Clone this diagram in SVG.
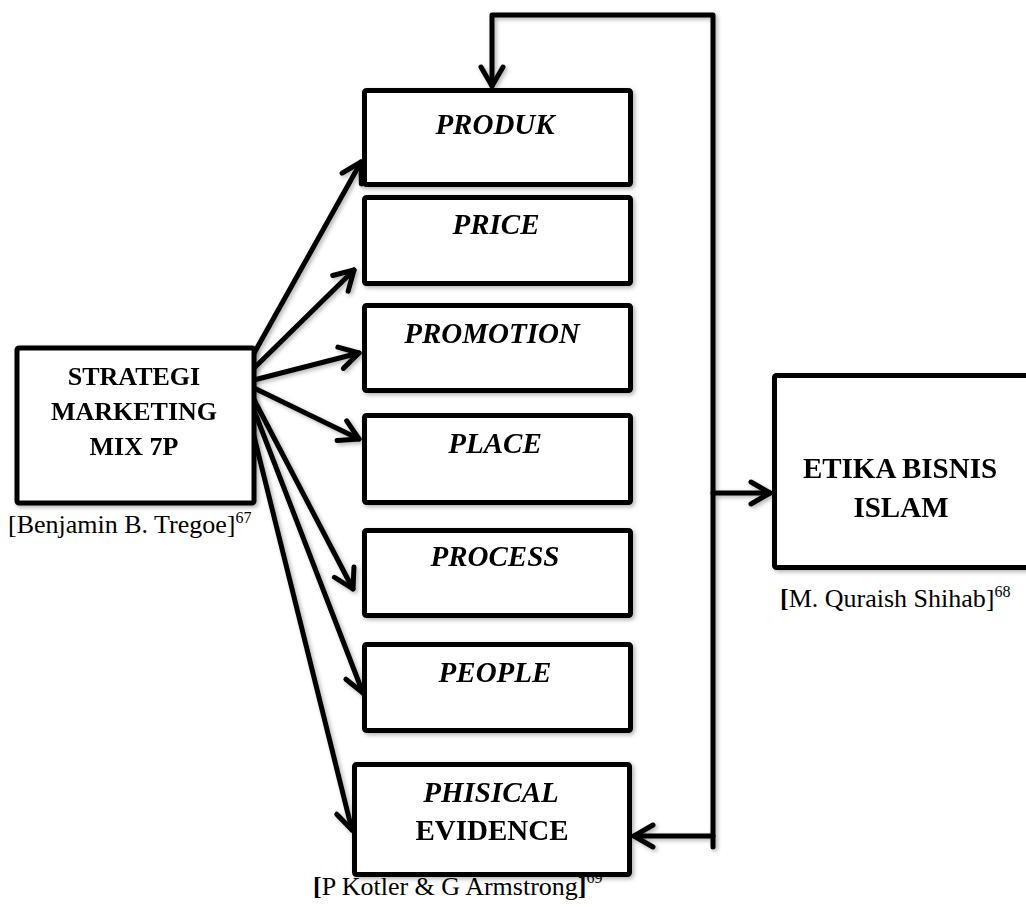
<svg xmlns="http://www.w3.org/2000/svg" width="1026" height="907" viewBox="0 0 1026 907">
  <style>
    .box { fill: #ffffff; stroke: #000000; stroke-width: 5; stroke-linejoin: round; }
    .lbl { font-family: "Liberation Serif", "Times New Roman", serif; font-weight: bold; fill: #000000; text-anchor: middle; }
    .it { font-style: italic; }
    .cite { font-family: "Liberation Serif", "Times New Roman", serif; font-size: 26px; fill: #000000; }
    .sup { font-size: 16px; }
    .wire { fill: none; stroke: #000000; stroke-width: 5; stroke-linecap: round; stroke-linejoin: round; }
  </style>
  <defs>
    <filter id="soft" x="-10%" y="-10%" width="130%" height="130%">
      <feDropShadow dx="2" dy="2" stdDeviation="2" flood-color="#000000" flood-opacity="0.3"/>
    </filter>
    <marker id="head" markerUnits="userSpaceOnUse" viewBox="-24 -14 28 28" refX="0" refY="0" markerWidth="28" markerHeight="28" orient="auto">
      <path d="M -19,-11 L 0,0 L -19,11" fill="none" stroke="#000000" stroke-width="5" stroke-linecap="round" stroke-linejoin="round"/>
    </marker>
  </defs>

  <rect width="1026" height="907" fill="#ffffff"/>

  <!-- source citations (the evidence box is drawn over the tail of the last one) -->
  <text class="cite" x="8" y="533">[Benjamin B. Tregoe]<tspan class="sup" dy="-10">67</tspan></text>
  <text class="cite" x="780" y="607"><tspan font-weight="bold">[</tspan>M. Quraish Shihab]<tspan class="sup" dy="-10">68</tspan></text>
  <text class="cite" x="313" y="895"><tspan font-weight="bold">[</tspan>P Kotler &amp; G Armstrong<tspan font-weight="bold">]</tspan><tspan class="sup" dy="-12">69</tspan></text>

  <!-- connectors -->
  <g id="connectors" filter="url(#soft)">
    <!-- fan-out from the marketing mix -->
    <line class="wire" x1="243" y1="373" x2="361" y2="162" marker-end="url(#head)"/>
    <line class="wire" x1="246" y1="376" x2="354" y2="270" marker-end="url(#head)"/>
    <line class="wire" x1="250" y1="381" x2="359" y2="353" marker-end="url(#head)"/>
    <line class="wire" x1="252" y1="387" x2="359" y2="439" marker-end="url(#head)"/>
    <line class="wire" x1="250" y1="392" x2="353" y2="589" marker-end="url(#head)"/>
    <line class="wire" x1="247" y1="392" x2="363" y2="693" marker-end="url(#head)"/>
    <line class="wire" x1="243" y1="392" x2="352" y2="830" marker-end="url(#head)"/>
    <!-- feedback loop -->
    <polyline class="wire" points="713,847 713,15 492,15 492,86" marker-end="url(#head)"/>
    <line class="wire" x1="713" y1="493" x2="770" y2="493" marker-end="url(#head)"/>
    <line class="wire" x1="713" y1="836" x2="634" y2="836" marker-end="url(#head)"/>
  </g>

  <!-- nodes -->
  <g id="strategi" filter="url(#soft)">
    <rect class="box" x="17" y="348" width="237" height="155" rx="2"/>
    <text class="lbl" font-size="26" x="134" y="385">STRATEGI</text>
    <text class="lbl" font-size="26" x="134" y="420">MARKETING</text>
    <text class="lbl" font-size="26" x="134" y="455">MIX 7P</text>
  </g>

  <g id="produk" filter="url(#soft)">
    <rect class="box" x="364.5" y="90.5" width="266" height="94" rx="2"/>
    <text class="lbl it" font-size="29" x="495" y="134">PRODUK</text>
  </g>

  <g id="price" filter="url(#soft)">
    <rect class="box" x="364.5" y="197.5" width="266" height="86" rx="2"/>
    <text class="lbl it" font-size="29" x="496" y="234">PRICE</text>
  </g>

  <g id="promotion" filter="url(#soft)">
    <rect class="box" x="364.5" y="305.5" width="266" height="85" rx="2"/>
    <text class="lbl it" font-size="29" x="492" y="343">PROMOTION</text>
  </g>

  <g id="place" filter="url(#soft)">
    <rect class="box" x="364.5" y="415.5" width="266" height="87" rx="2"/>
    <text class="lbl it" font-size="29" x="495" y="453">PLACE</text>
  </g>

  <g id="process" filter="url(#soft)">
    <rect class="box" x="364.5" y="530.5" width="266" height="85" rx="2"/>
    <text class="lbl it" font-size="29" x="495" y="566">PROCESS</text>
  </g>

  <g id="people" filter="url(#soft)">
    <rect class="box" x="364.5" y="644.5" width="266" height="86" rx="2"/>
    <text class="lbl it" font-size="29" x="495" y="682">PEOPLE</text>
  </g>

  <g id="physical-evidence" filter="url(#soft)">
    <rect class="box" x="354.5" y="764.5" width="275" height="110" rx="2"/>
    <text class="lbl it" font-size="29" x="491" y="802">PHISICAL</text>
    <text class="lbl" font-size="29" x="492" y="840">EVIDENCE</text>
  </g>

  <g id="etika" filter="url(#soft)">
    <rect class="box" x="774.5" y="375.5" width="262" height="192" rx="2"/>
    <text class="lbl" font-size="29" x="900" y="478">ETIKA BISNIS</text>
    <text class="lbl" font-size="29" x="901" y="517">ISLAM</text>
  </g>
</svg>
